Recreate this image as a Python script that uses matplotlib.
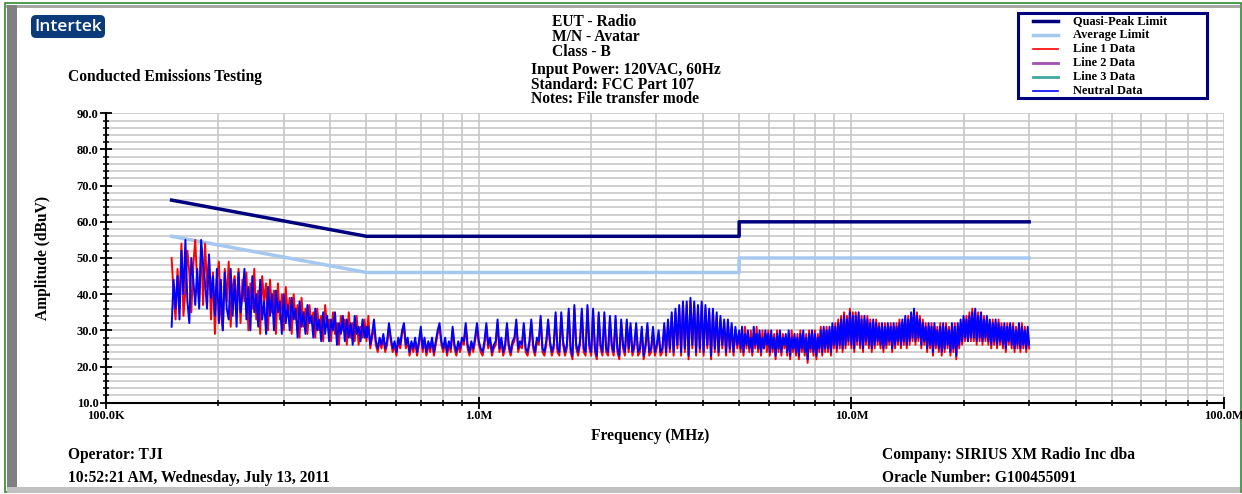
import numpy as np
import matplotlib.pyplot as plt
from matplotlib.patches import Rectangle, FancyBboxPatch
from matplotlib.ticker import FixedLocator, LogLocator, NullFormatter

plt.rcParams['font.family'] = ['Liberation Serif', 'DejaVu Serif']
plt.rcParams['font.weight'] = 'bold'

# FCC Part 15 class B conducted limits (MHz, dBuV)
qp_freq = [0.15, 0.5, 5.0, 5.0, 30.0]
qp_level = [66.0, 56.0, 56.0, 60.0, 60.0]
avg_freq = [0.15, 0.5, 5.0, 5.0, 30.0]
avg_level = [56.0, 46.0, 46.0, 50.0, 50.0]

# sweep bands (MHz); readings in each band are log spaced
band_a = (0.15, 0.5)
band_b = (0.5, 5.0)
band_c = (5.0, 30.0)

# Line 1 readings, dBuV
line1_a = [50, 40, 33, 47, 36, 54, 34, 41, 52, 46, 35, 48, 55, 43, 38, 53, 37, 54, 42, 50,
           33, 46, 29, 44, 49, 35, 30, 47, 38, 49, 31, 42, 45, 36, 47, 32, 44, 38, 46, 30,
           43, 36, 47, 33, 41, 29, 45, 38, 43, 30, 44, 35, 41, 29, 43, 33, 40, 30, 42, 34,
           39, 29, 40, 33, 37, 28, 39, 31, 36, 29, 37, 32, 35, 28, 36, 30, 34, 27, 37, 31,
           33, 27, 35, 29, 32, 26, 34, 30, 33, 26, 35, 28, 32, 27, 34, 26, 31, 28, 33, 27]
line1_b = [27, 34, 25, 28, 31, 26, 24, 27, 25, 28, 24, 26, 31, 27, 24, 26, 23, 27, 25, 29,
           31, 25, 27, 23, 26, 24, 27, 23, 26, 30, 24, 27, 23, 26, 24, 27, 23, 26, 29, 31,
           26, 24, 27, 23, 26, 24, 30, 25, 23, 26, 24, 27, 26, 31, 25, 23, 26, 24, 27, 31,
           26, 24, 23, 26, 31, 25, 27, 23, 25, 26, 32, 24, 27, 23, 25, 31, 25, 23, 26, 27,
           32, 24, 26, 25, 31, 24, 23, 26, 32, 25, 23, 27, 26, 33, 24, 23, 26, 32, 26, 23,
           25, 34, 24, 23, 34, 26, 23, 25, 35, 24, 22, 36, 25, 23, 26, 35, 24, 23, 36, 25,
           23, 35, 24, 22, 34, 25, 23, 34, 24, 23, 33, 25, 23, 33, 24, 22, 32, 25, 23, 32,
           24, 31, 23, 25, 31, 23, 24, 30, 22, 25, 31, 23, 24, 30, 23, 25, 29, 23, 24, 31,
           23, 32, 24, 34, 23, 35, 25, 36, 23, 37, 24, 37, 22, 38, 25, 37, 23, 36, 24, 37,
           23, 36, 25, 35, 22, 35, 24, 34, 23, 33, 25, 32, 23, 32, 24, 31, 23, 30, 25, 29]
line1_c = [29, 24, 30, 23, 31, 25, 29, 24, 30, 23, 29, 25, 31, 24, 29, 23, 30, 25, 29, 24,
           30, 23, 28, 24, 29, 22, 30, 24, 28, 23, 29, 25, 28, 23, 29, 22, 30, 24, 28, 23,
           29, 22, 30, 24, 28, 23, 29, 21, 30, 24, 28, 23, 30, 22, 29, 24, 31, 23, 30, 24,
           31, 24, 30, 23, 31, 25, 32, 24, 33, 25, 34, 24, 35, 25, 34, 26, 36, 25, 35, 24,
           35, 26, 34, 25, 34, 24, 33, 26, 34, 25, 33, 24, 32, 25, 33, 26, 32, 25, 31, 24,
           32, 25, 31, 26, 32, 24, 31, 25, 32, 26, 33, 25, 32, 26, 33, 25, 34, 26, 34, 27,
           35, 26, 35, 27, 34, 25, 33, 26, 32, 24, 31, 25, 32, 23, 31, 25, 31, 24, 32, 23,
           31, 24, 32, 25, 31, 23, 31, 24, 32, 22, 31, 25, 32, 26, 33, 27, 34, 27, 35, 27,
           36, 27, 35, 26, 35, 27, 34, 26, 34, 27, 33, 26, 32, 25, 33, 26, 32, 25, 33, 26,
           32, 25, 31, 24, 32, 26, 31, 25, 32, 24, 31, 25, 31, 24, 32, 25, 31, 24, 30, 25]

# Neutral readings, dBuV
neutral_a = [31, 44, 36, 45, 33, 52, 40, 55, 38, 32, 50, 44, 37, 47, 36, 55, 48, 43, 36, 51,
             39, 45, 34, 47, 32, 44, 30, 46, 36, 33, 47, 34, 44, 31, 46, 35, 40, 47, 33, 42,
             30, 45, 35, 40, 31, 44, 33, 38, 29, 42, 34, 40, 30, 41, 35, 38, 29, 40, 32, 37,
             30, 39, 33, 36, 28, 38, 31, 35, 29, 37, 32, 34, 28, 36, 30, 33, 27, 35, 29, 34,
             27, 33, 30, 35, 26, 32, 29, 34, 27, 33, 28, 32, 26, 34, 29, 31, 27, 33, 28, 31]
neutral_b = [28, 31, 26, 29, 33, 27, 25, 28, 26, 29, 25, 27, 32, 28, 25, 27, 24, 28, 26, 30,
             32, 26, 28, 24, 27, 25, 28, 24, 27, 31, 25, 28, 24, 27, 25, 28, 24, 27, 30, 32,
             27, 25, 28, 24, 27, 25, 31, 26, 24, 27, 25, 28, 27, 32, 26, 24, 27, 25, 28, 32,
             27, 25, 24, 27, 32, 26, 28, 24, 26, 27, 33, 25, 28, 24, 26, 32, 26, 24, 27, 28,
             33, 25, 27, 26, 32, 25, 24, 27, 33, 26, 24, 28, 27, 34, 25, 24, 27, 33, 27, 24,
             26, 35, 25, 24, 35, 27, 24, 26, 36, 25, 23, 37, 26, 24, 27, 36, 25, 24, 37, 26,
             24, 36, 25, 23, 35, 26, 24, 35, 25, 24, 34, 26, 24, 34, 25, 23, 33, 26, 24, 33,
             25, 32, 24, 26, 32, 24, 25, 31, 23, 26, 32, 24, 25, 31, 24, 26, 30, 24, 25, 32,
             24, 33, 25, 35, 24, 36, 26, 37, 24, 38, 25, 38, 23, 39, 26, 38, 24, 37, 25, 38,
             24, 37, 26, 36, 23, 36, 25, 35, 24, 34, 26, 33, 24, 33, 25, 32, 24, 31, 26, 30]
neutral_c = [30, 25, 31, 24, 29, 26, 30, 25, 28, 24, 31, 26, 29, 25, 30, 24, 28, 25, 30, 26,
             29, 24, 30, 25, 28, 23, 29, 25, 30, 24, 28, 26, 29, 24, 30, 23, 28, 25, 29, 24,
             28, 23, 29, 25, 30, 24, 28, 22, 29, 25, 30, 24, 29, 23, 28, 25, 30, 24, 31, 25,
             30, 25, 31, 24, 32, 26, 31, 25, 32, 26, 33, 25, 34, 26, 33, 27, 35, 26, 34, 25,
             34, 27, 35, 26, 33, 25, 34, 27, 33, 26, 32, 25, 33, 26, 32, 27, 31, 26, 32, 25,
             31, 26, 32, 27, 31, 25, 32, 26, 31, 27, 32, 26, 33, 27, 34, 26, 33, 27, 35, 28,
             36, 27, 34, 28, 33, 26, 32, 27, 31, 25, 32, 26, 31, 24, 32, 26, 30, 25, 31, 24,
             32, 25, 31, 26, 30, 24, 32, 25, 31, 23, 32, 26, 33, 27, 34, 28, 33, 27, 34, 28,
             35, 28, 36, 27, 34, 28, 35, 27, 33, 28, 34, 27, 33, 26, 32, 27, 33, 26, 32, 27,
             31, 26, 32, 25, 31, 27, 32, 26, 31, 25, 30, 26, 32, 25, 31, 26, 30, 25, 31, 26]

legend_labels = ['Quasi-Peak Limit', 'Average Limit', 'Line 1 Data',
                 'Line 2 Data', 'Line 3 Data', 'Neutral Data']
legend_colors = ['#00007f', '#a4c8f0', '#ff0000', '#a050b0', '#40a8a0', '#0000ff']
legend_widths = [2.5, 2.5, 1.2, 2.0, 2.0, 1.2]


def sweep(bands, parts):
    f = np.concatenate([np.geomspace(b[0], b[1], len(p)) for b, p in zip(bands, parts)])
    v = np.concatenate([np.asarray(p, float) for p in parts])
    return f, v


bands = [band_a, band_b, band_c]
f1, v1 = sweep(bands, [line1_a, line1_b, line1_c])
fn, vn = sweep(bands, [neutral_a, neutral_b, neutral_c])

W, H = 1242, 494
fig = plt.figure(figsize=(W / 100, H / 100), dpi=100)

# page decoration drawn in pixel units
deco = fig.add_axes([0, 0, 1, 1])
deco.set_xlim(0, W)
deco.set_ylim(H, 0)
deco.axis('off')
deco.add_patch(Rectangle((5, 3), 1236, 489, fill=False, ec='#2e8b2e', lw=1.2))
deco.add_patch(Rectangle((6, 5), 1234, 3, color='#a8a8a8', lw=0))
deco.add_patch(Rectangle((7, 5), 10, 484, color='#808080', lw=0))
deco.add_patch(Rectangle((7, 487), 1233, 6, color='#c0c0c0', lw=0))

deco.add_patch(FancyBboxPatch((31, 15), 74, 23, boxstyle='round,pad=0,rounding_size=5',
                              fc='#0b3b78', ec='none'))
deco.text(68, 27, 'Intertek', color='white', fontsize=12.5, family='Open Sans',
          weight='semibold', ha='center', va='center')

txt = dict(fontsize=11.2, va='center', ha='left', weight='bold')
deco.text(68, 77, 'Conducted Emissions Testing', **txt)
for y, s in zip([22, 37, 52], ['EUT - Radio', 'M/N - Avatar', 'Class - B']):
    deco.text(552, y, s, **txt)
for y, s in zip([70, 85, 99], ['Input Power: 120VAC, 60Hz', 'Standard: FCC Part 107',
                               'Notes: File transfer mode']):
    deco.text(531, y, s, **txt)
deco.text(68, 455, 'Operator: TJI', **txt)
deco.text(68, 478, '10:52:21 AM, Wednesday, July 13, 2011', **txt)
deco.text(882, 455, 'Company: SIRIUS XM Radio Inc dba', **txt)
deco.text(882, 478, 'Oracle Number: G100455091', **txt)
deco.text(43, 258, 'Amplitude (dBuV)', fontsize=11.2, weight='bold', rotation=90,
          ha='center', va='center')
deco.text(650, 436, 'Frequency (MHz)', fontsize=11.2, weight='bold', ha='center', va='center')

# legend box
deco.add_patch(Rectangle((1018, 13), 189, 85, fill=False, ec='#00007f', lw=2.2))
for i, (lab, c, lw) in enumerate(zip(legend_labels, legend_colors, legend_widths)):
    y = 21 + 14 * i
    deco.plot([1033, 1058], [y, y], color=c, lw=lw)
    deco.text(1073, y, lab, fontsize=8.9, weight='bold', va='center', ha='left')

# main plot
ax = fig.add_axes([106 / W, 1 - 402.7 / H, (1224 - 106) / W, (402.7 - 113.3) / H])
ax.set_xscale('log')
ax.set_xlim(0.1, 100)
ax.set_ylim(10, 90)

ax.plot(qp_freq, qp_level, color=legend_colors[0], lw=2.5, zorder=3)
ax.plot(avg_freq, avg_level, color=legend_colors[1], lw=2.5, zorder=3)
ax.plot(f1, v1, color=legend_colors[2], lw=1.4, zorder=4)
ax.plot(fn, vn, color=legend_colors[5], lw=1.4, zorder=5)

ax.yaxis.set_major_locator(FixedLocator(np.arange(10, 91, 10)))
ax.yaxis.set_minor_locator(FixedLocator(np.arange(10, 91, 2)))
ax.set_yticklabels([f'{v:.1f}' for v in np.arange(10, 91, 10)])
ax.xaxis.set_major_locator(FixedLocator([0.1, 1, 10, 100]))
ax.xaxis.set_minor_locator(LogLocator(base=10, subs=np.arange(2, 10)))
ax.xaxis.set_minor_formatter(NullFormatter())
ax.set_xticklabels(['100.0K', '1.0M', '10.0M', '100.0M'])

ax.grid(True, which='both', color='#c8c8c8', lw=1.2, zorder=0)
ax.set_axisbelow(True)
for s in ['top', 'right']:
    ax.spines[s].set_visible(False)
for s in ['left', 'bottom']:
    ax.spines[s].set_linewidth(1.5)
ax.tick_params(which='major', direction='inout', length=9, width=1.3, labelsize=9, pad=1)
ax.tick_params(which='minor', direction='inout', length=5, width=1.1)
ax.patch.set_alpha(0)

fig.savefig('out.png', dpi=100)
